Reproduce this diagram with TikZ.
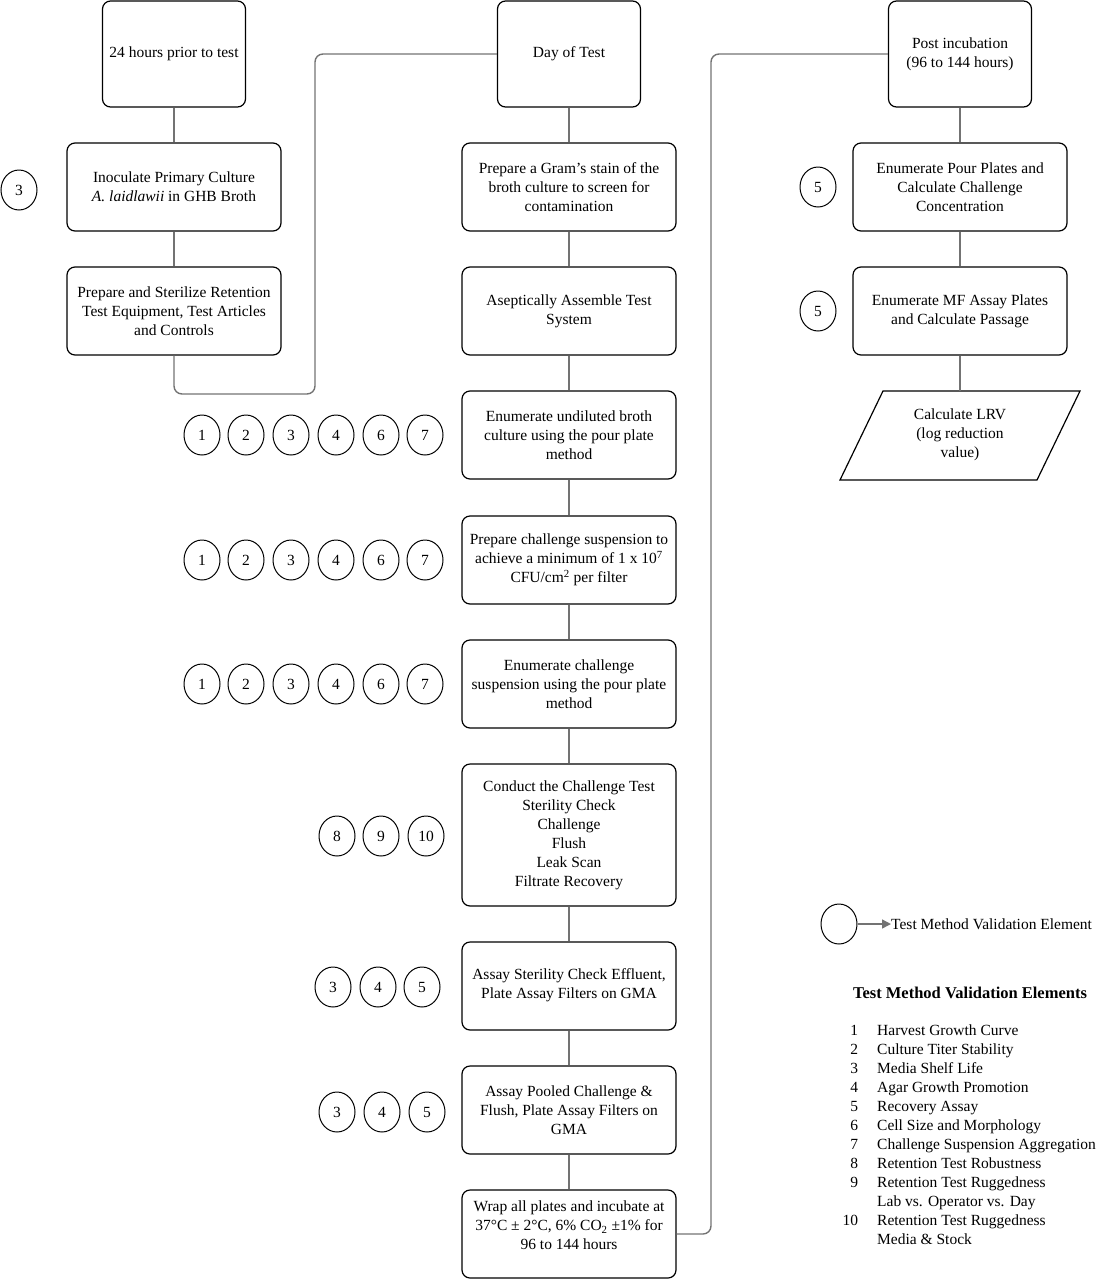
\documentclass[tikz,border=0pt]{standalone}
\usepackage{fontspec}
\setmainfont{Liberation Serif}
\usetikzlibrary{shapes.geometric,arrows.meta}
\newcommand\fs{\fontsize{15.5}{19}\selectfont}
\begin{document}
\begin{tikzpicture}[x=1pt,y=-1pt,
  every node/.style={font=\fs},
  box/.style={draw=black, line width=1.2pt, rounded corners=8pt, minimum width=214pt, minimum height=88pt, align=center, inner sep=1pt},
  tbox/.style={box, minimum width=143pt, minimum height=106pt},
  num/.style={draw=black, ellipse, line width=1pt, minimum width=36pt, minimum height=40pt, inner sep=0pt},
  link/.style={draw=black!55, line width=1.4pt, rounded corners=8pt},
  shapeline/.style={draw=black, line width=1.2pt}]
\useasboundingbox (0,0) rectangle (1099,1280);
% left column
\node[tbox] (t24) at (174,54) {24 hours prior to test};
\node[box] (inoc) at (174,187) {Inoculate Primary Culture\\\textit{A. laidlawii} in GHB Broth};
\node[box] (prep) at (174,311) {Prepare and Sterilize Retention\\Test Equipment, Test Articles\\and Controls};
% middle column
\node[tbox] (day) at (569,54) {Day of Test};
\node[box] (gram) at (569,187) {Prepare a Gram’s stain of the\\broth culture to screen for\\contamination};
\node[box] (asep) at (569,311) {Aseptically Assemble Test\\System};
\node[box] (undil) at (569,435) {Enumerate undiluted broth\\culture using the pour plate\\method};
\node[box] (chal) at (569,560) {Prepare challenge suspension to\\achieve a minimum of 1 x 10\textsuperscript{7}\\CFU/cm\textsuperscript{2} per filter};
\node[box] (enumc) at (569,684) {Enumerate challenge\\suspension using the pour plate\\method};
\node[box, minimum height=142pt] (cond) at (569,835) {Conduct the Challenge Test\\Sterility Check\\Challenge\\Flush\\Leak Scan\\Filtrate Recovery};
\node[box] (assays) at (569,986) {\mbox{}\\[-10pt]Assay Sterility Check Effluent,\\Plate Assay Filters on GMA};
\node[box] (assayp) at (569,1110) {Assay Pooled Challenge \&\\Flush, Plate Assay Filters on\\GMA};
\node[box] (wrap) at (569,1234) {Wrap all plates and incubate at\\37°C ± 2°C, 6\% CO\textsubscript{2} ±1\% for\\96 to 144 hours\\[-2pt]\mbox{}};
% right column
\node[tbox] (post) at (960,54) {Post incubation\\(96 to 144 hours)};
\node[box] (pour) at (960,187) {Enumerate Pour Plates and\\Calculate Challenge\\Concentration};
\node[box] (mf) at (960,311) {Enumerate MF Assay Plates\\and Calculate Passage};
\draw[shapeline] (883,391) -- (1080,391) -- (1037,480) -- (840,480) -- cycle;
\node[align=center, inner sep=0pt] (lrv) at (960,435) {Calculate LRV\\(log reduction\\value)};
\coordinate (lrvtop) at (960,391);
% connectors
\coordinate (lk) at (315,394);
\coordinate (rk) at (711,54);
\draw[link] (t24) -- (inoc);
\draw[link] (inoc) -- (prep);
\draw[link] (prep.south) |- (lk) |- (day.west);
\draw[link] (day) -- (gram);
\draw[link] (gram) -- (asep);
\draw[link] (asep) -- (undil);
\draw[link] (undil) -- (chal);
\draw[link] (chal) -- (enumc);
\draw[link] (enumc) -- (cond);
\draw[link] (cond) -- (assays);
\draw[link] (assays) -- (assayp);
\draw[link] (assayp) -- (wrap);
\draw[link] (wrap.east) -| (rk) -- (post.west);
\draw[link] (post) -- (pour);
\draw[link] (pour) -- (mf);
\draw[link] (mf) -- (lrvtop);
% validation element circles
\node[num] (c3l) at (19,190) {3};
\node[num] (c5a) at (818,187) {5};
\node[num] (c5b) at (818,311) {5};
\foreach \n/\x in {1/202,2/246,3/291,4/336,6/381,7/425}{
  \node[num] (ra\n) at (\x,435) {\n};
  \node[num] (rb\n) at (\x,560) {\n};
  \node[num] (rc\n) at (\x,684) {\n};
}
\foreach \n/\x in {8/337,9/381,10/426}{\node[num] (rd\n) at (\x,836) {\n};}
\foreach \n/\x in {3/333,4/378,5/422}{\node[num] (re\n) at (\x,987) {\n};}
\foreach \n/\x in {3/337,4/382,5/427}{\node[num] (rf\n) at (\x,1112) {\n};}
% legend
\node[num] (lgc) at (839,924) {};
\node[anchor=west, inner sep=0pt] (lgt) at (891,924) {Test Method Validation Element};
\draw[draw=black!55, fill=black!55, line width=1.4pt, -{Triangle[length=9pt,width=9pt]}] (lgc.east) -- (lgt.west);
\node[font=\fontsize{16.5}{20}\selectfont\bfseries] (lgtitle) at (970,993) {Test Method Validation Elements};
\node[anchor=north west, inner sep=0pt] (lglist) at (842.5,1021.5) {%
\begin{tabular}{@{}r@{\hspace{19pt}}l@{}}
1 & Harvest Growth Curve\\
2 & Culture Titer Stability\\
3 & Media Shelf Life\\
4 & Agar Growth Promotion\\
5 & Recovery Assay\\
6 & Cell Size and Morphology\\
7 & Challenge Suspension Aggregation\\
8 & Retention Test Robustness\\
9 & Retention Test Ruggedness\\
  & Lab vs. Operator vs. Day\\
10 & Retention Test Ruggedness\\
  & Media \& Stock
\end{tabular}};
\end{tikzpicture}
\end{document}
